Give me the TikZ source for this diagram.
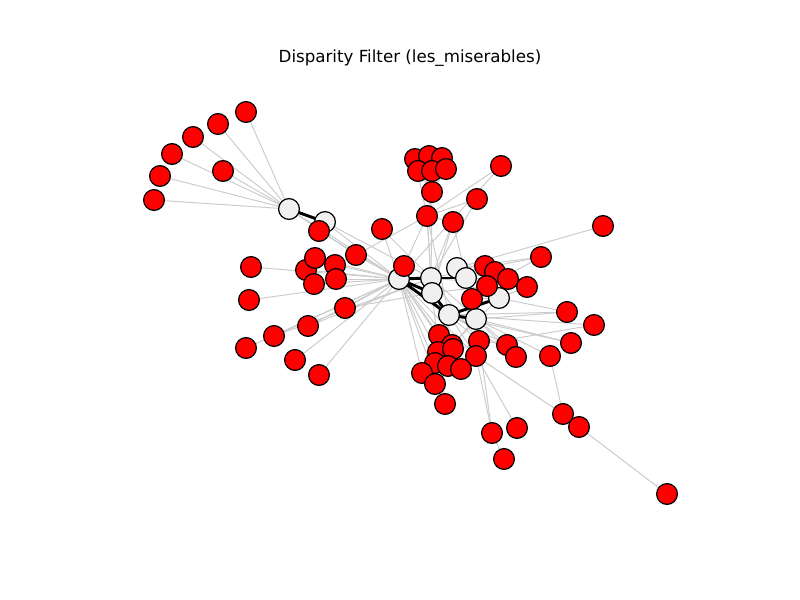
\documentclass[tikz,border=0pt]{standalone}
\usepackage{fontspec}
\setmainfont{DejaVu Sans}
\definecolor{edgegray}{HTML}{CCCCCC}
\definecolor{hubfill}{HTML}{F0F0F0}
\begin{document}
\begin{tikzpicture}[x=0.75pt,y=-0.75pt,
  vtx/.style={circle,draw=black,line width=0.9pt,minimum size=15.6pt,inner sep=0pt},
  hub/.style={vtx,fill=hubfill},
  leaf/.style={vtx,fill=red},
  weak/.style={draw=edgegray,line width=0.75pt},
  strong/.style={draw=black,line width=2.2pt}]
\useasboundingbox (0,0) rectangle (800,600);
\node[font=\fontsize{12.5}{15}\selectfont] (title) at (410,58) {Disparity Filter (les\_miserables)};
% coordinates for node centres
\foreach \n/\x/\y in {w1/289/209,w2/325/222,w3/399/279,w4/431/278,w5/457/268,w6/466/278,w7/432/293,w8/449/315,w9/476/319,w10/499/298,
 f1/246/112,f2/218/124,f3/193/137,f4/172/154,f5/160/176,f6/154/200,f7/223/171,
 t1/415/159,t2/429/156,t3/442/158,t4/418/171,t5/432/171,t6/446/169,t7/432/192,t8/427/216,t9/453/222,t10/477/199,t11/501/166,
 l1/319/231,l2/382/229,l3/356/255,l4/306/270,l5/315/258,l6/335/265,l7/314/284,l8/336/279,l9/345/308,l10/404/266,l11/251/267,l12/249/300,l13/274/336,l14/246/348,l15/308/326,l16/295/360,l17/319/375,
 r1/485/266,r2/495/272,r3/508/279,r4/487/286,r5/527/287,r6/541/257,r7/603/226,r8/472/299,r9/567/312,r10/594/325,r11/571/343,r12/550/356,r13/507/345,r14/516/357,r15/479/341,r16/476/356,
 b1/439/335,b2/452/345,b3/438/352,b4/453/349,b5/435/363,b6/448/366,b7/461/369,b8/422/373,b9/435/384,b10/445/404,b11/563/414,b12/579/427,b13/492/433,b14/517/428,b15/504/459,b16/667/494}
  {\coordinate (c\n) at (\x,\y);}
% weak edges
\foreach \a/\b in {f1/w1,f2/w1,f3/w1,f4/w1,f5/w1,f6/w1,f7/w1,w1/w3,w1/l3,w2/w3,w2/w4,
 l1/w3,l2/w3,l2/w4,l3/w3,l3/t8,l4/w3,l5/w3,l6/w3,l7/w3,l8/w3,l9/w3,l10/w3,l11/w3,l12/w3,l13/w3,l13/w4,l14/w3,l15/w3,l16/w3,l17/w3,l9/w7,l15/w4,
 t1/t7,t2/t7,t3/t7,t4/t7,t5/t7,t6/t7,t1/t8,t3/t8,t7/t8,t8/w4,t8/w7,t8/w8,t8/l10,t7/w4,t9/w4,t9/w7,t9/t8,t9/w6,t10/w4,t10/t8,t11/t8,t11/w3,
 r7/w5,r6/w5,r6/w4,r6/r4,r5/w10,r5/w4,r1/w5,r2/w6,r3/w4,r4/w7,r8/w6,r8/w10,r9/w9,r9/w10,r9/w8,r10/w8,r10/b4,r11/w9,r11/w8,r12/w9,r12/b11,r13/w8,r13/w4,r14/w9,r14/w3,r15/w8,r15/w4,r16/w3,r16/w8,
 b1/w3,b2/w3,b3/w3,b4/w7,b5/w3,b6/w8,b7/w3,b8/w3,b9/w8,b10/w3,b10/w7,b7/w4,b2/w10,
 b11/r16,b11/b12,b12/b16,b13/w9,b13/r16,b14/r16,b15/b13,b5/w9}
  {\draw[weak] (c\a) -- (c\b);}
% strong edges
\foreach \a/\b in {w1/w2,w3/w4,w3/w7,w3/w8,w4/w6,w5/w6,w7/w8,w8/w9,w8/w10}
  {\draw[strong] (c\a) -- (c\b);}
% hub nodes
\foreach \n in {w1,w2,w3,w4,w5,w6,w7,w8,w9,w10}
  {\node[hub] (\n) at (c\n) {};}
% leaf nodes
\foreach \n in {f1,f2,f3,f4,f5,f6,f7,t1,t2,t3,t4,t5,t6,t7,t8,t9,t10,t11,
 l1,l2,l3,l4,l5,l6,l7,l8,l9,l10,l11,l12,l13,l14,l15,l16,l17,
 r1,r2,r3,r4,r5,r6,r7,r8,r9,r10,r11,r12,r13,r14,r15,r16,
 b1,b2,b3,b4,b5,b6,b7,b8,b9,b10,b11,b12,b13,b14,b15,b16}
  {\node[leaf] (\n) at (c\n) {};}
\end{tikzpicture}
\end{document}
